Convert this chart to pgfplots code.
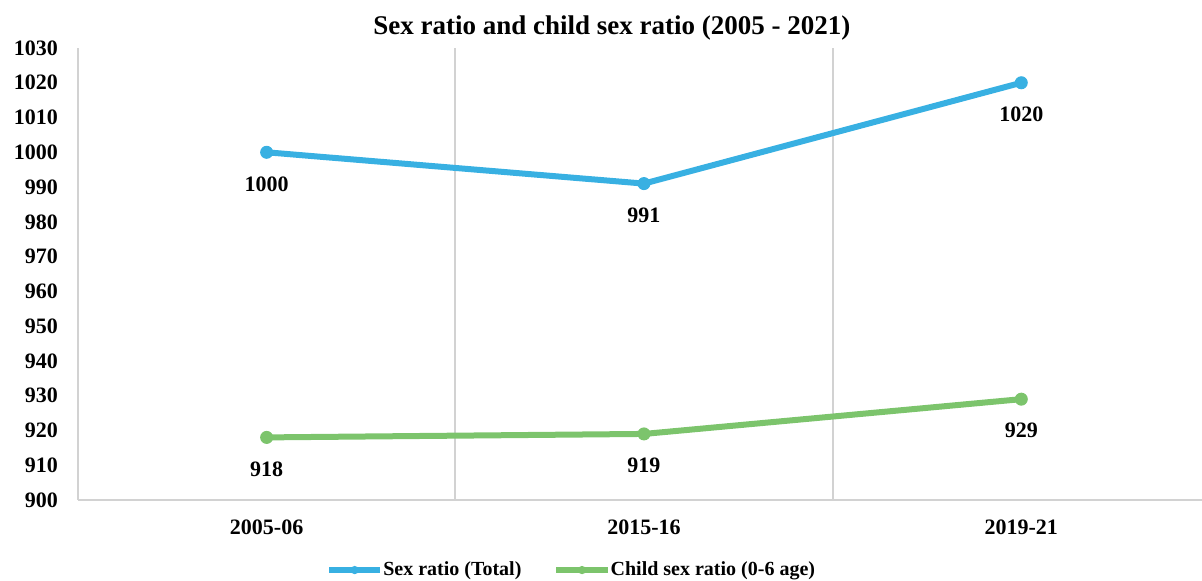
\documentclass[border=0pt]{standalone}
\usepackage{pgfplots}
\pgfplotsset{compat=1.18}
\usetikzlibrary{calc}
\usepackage{fontspec}
\setmainfont{Liberation Serif}
\definecolor{sblue}{RGB}{56,176,226}
\definecolor{sgreen}{RGB}{124,196,108}
\definecolor{axgray}{RGB}{210,210,210}
\begin{document}
\begin{tikzpicture}
\begin{axis}[
  name=ax,
  scale only axis,
  width=562pt, height=226pt,
  xmin=-0.5, xmax=2.479,
  ymin=900, ymax=1030,
  ytick={900,910,...,1030},
  xtick={0,1,2},
  xticklabels={2005-06,2015-16,2019-21},
  extra x ticks={0.5,1.5},
  extra x tick labels={},
  extra x tick style={grid=major, major grid style={axgray, line width=0.9pt}},
  axis x line*=bottom, axis y line*=left,
  axis line style={axgray, line width=1pt, -},
  major tick length=0pt,
  /pgf/number format/assume math mode=true,
  /pgf/number format/1000 sep={},
  ticklabel style={font=\fontsize{11}{13}\selectfont\bfseries},
  yticklabel style={xshift=-6.5pt},
  xticklabel style={yshift=-6.5pt},
  clip=false,
  nodes near coords,
  every node near coord/.append style={font=\fontsize{11}{13}\selectfont\bfseries, black, anchor=north, yshift=-8.5pt},
  legend columns=2,
  legend style={at={(0.44,-0.155)}, anchor=center, draw=none, font=\fontsize{10}{12}\selectfont\bfseries,
    /tikz/every even column/.append style={column sep=14pt},
    /tikz/every odd column/.append style={column sep=-2pt}},
  legend image code/.code={\draw[#1, mark repeat=2, mark phase=2, mark size=1.8pt] plot coordinates {(0cm,0cm) (0.45cm,0cm) (0.9cm,0cm)};},
]
\addplot[sblue, line width=3pt, mark=*, mark size=3pt, mark options={line width=0.5pt}] coordinates {(0,1000) (1,991) (2,1020)};
\addlegendentry{Sex ratio (Total)}
\addplot[sgreen, line width=3pt, mark=*, mark size=3pt, mark options={line width=0.5pt}] coordinates {(0,918) (1,919) (2,929)};
\addlegendentry{Child sex ratio (0-6 age)}
\end{axis}
\path (ax.north west) -- (ax.north east) node[pos=0.475, yshift=10pt, anchor=center, font=\fontsize{13.5}{15}\selectfont\bfseries] {Sex ratio and child sex ratio (2005 - 2021)};
\pgfresetboundingbox
\path ($(ax.south west)+(-39pt,-40.5pt)$) rectangle ($(ax.north east)+(0,24pt)$);
\end{tikzpicture}
\end{document}
